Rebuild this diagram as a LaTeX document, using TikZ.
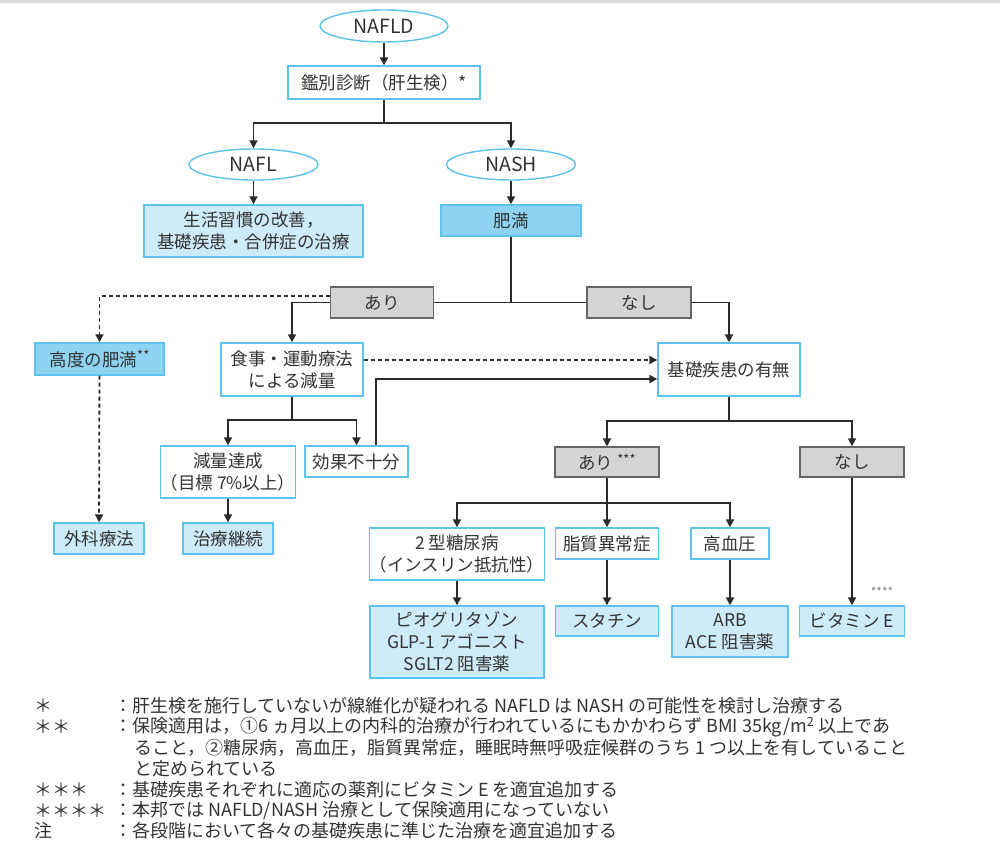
\documentclass[tikz,border=0pt]{standalone}
\usepackage{fontspec}
\setmainfont{Noto Sans CJK JP}
\usetikzlibrary{shapes.geometric,arrows.meta}
\definecolor{bcol}{HTML}{5CC3EE}
\definecolor{lfill}{HTML}{CDEBF9}
\definecolor{dfill}{HTML}{8FD3F2}
\definecolor{gfill}{HTML}{D4D4D4}
\definecolor{gline}{HTML}{666666}
\definecolor{tcol}{HTML}{333333}
\definecolor{lcol}{HTML}{2A2A2A}
\newcommand{\bxfont}{\fontsize{17.5}{22}\selectfont}
\newcommand{\ntfont}{\fontsize{18}{21}\selectfont}
\newcommand{\supast}[1]{\raisebox{0.3em}{\fontsize{13}{13}\selectfont #1}}
\tikzset{
  bx/.style={draw=bcol, line width=1.4pt, fill=white, text=tcol, font=\bxfont, inner sep=0pt, align=center},
  lb/.style={bx, fill=lfill},
  db/.style={bx, fill=dfill},
  gy/.style={draw=gline, line width=1.4pt, fill=gfill, text=tcol, font=\bxfont, inner sep=0pt, align=center},
  el/.style={ellipse, draw=bcol, line width=1.4pt, fill=white, text=tcol, font=\fontsize{19.5}{22}\selectfont, inner sep=0pt},
  ln/.style={draw=lcol, line width=1.8pt},
  arr/.style={ln, -{Triangle[length=8pt,width=8pt]}},
  darr/.style={arr, dash pattern=on 4pt off 3pt},
  note/.style={anchor=west, text=tcol, font=\ntfont, inner sep=0pt}
}
\begin{document}
\begin{tikzpicture}[x=1pt,y=-1pt]
\useasboundingbox (0,0) rectangle (1000,853);
\fill[fill=gray!30] (0,0.5) rectangle (1000,3.5);
% nodes
\node[el, minimum width=128pt, minimum height=32pt] (nafld) at (384,26) {NAFLD};
\node[bx, minimum width=192pt, minimum height=33pt] (kan) at (384,82.5) {鑑別診断（肝生検）*};
\node[el, minimum width=129pt, minimum height=31pt] (nafl) at (253.5,164.5) {NAFL};
\node[el, minimum width=129pt, minimum height=31pt] (nash) at (511,164.5) {NASH};
\node[lb, minimum width=219pt, minimum height=52pt] (seik) at (253.5,231) {生活習慣の改善，\\基礎疾患・合併症の治療};
\node[db, minimum width=140pt, minimum height=31pt] (him) at (511,220.5) {肥満};
\node[gy, minimum width=103pt, minimum height=31pt] (ari1) at (382,302.5) {あり};
\node[gy, minimum width=104pt, minimum height=31pt] (nas1) at (639,302.5) {なし};
\node[db, minimum width=129pt, minimum height=32pt] (kodo) at (99.5,359) {高度の肥満\supast{**}};
\node[bx, minimum width=142pt, minimum height=53pt] (shok) at (292,369.5) {食事・運動療法\\による減量};
\node[bx, minimum width=142pt, minimum height=53pt] (kiso) at (729,369.5) {基礎疾患の有無};
\node[bx, minimum width=135pt, minimum height=52pt] (gen) at (228,472) {減量達成\\（目標 7\%以上）};
\node[bx, minimum width=103pt, minimum height=31pt] (kok) at (356.5,461.5) {効果不十分};
\node[lb, minimum width=90pt, minimum height=31pt] (geka) at (99,538.5) {外科療法};
\node[lb, minimum width=90pt, minimum height=31pt] (keiz) at (228,538.5) {治療継続};
\node[gy, minimum width=104pt, minimum height=30pt] (ari2) at (607,462) {あり \supast{***}};
\node[gy, minimum width=104pt, minimum height=30pt] (nas2) at (852,462) {なし};
\node[bx, minimum width=174pt, minimum height=52pt] (dm) at (457,554) {2 型糖尿病\\（インスリン抵抗性）};
\node[bx, minimum width=103pt, minimum height=31pt] (lip) at (607,543.5) {脂質異常症};
\node[bx, minimum width=78pt, minimum height=31pt] (htn) at (730,543.5) {高血圧};
\node[lb, minimum width=174pt, minimum height=72pt] (pio) at (457,642) {ピオグリタゾン\\GLP-1 アゴニスト\\SGLT2 阻害薬};
\node[lb, minimum width=103pt, minimum height=30pt] (stat) at (607,621) {スタチン};
\node[lb, minimum width=116pt, minimum height=51pt] (arb) at (730,631.5) {ARB\\ACE 阻害薬};
\node[lb, minimum width=105pt, minimum height=30pt] (vite) at (852,621) {ビタミン E};
\node[text=gray, font=\fontsize{12}{12}\selectfont, inner sep=0pt] (ast4) at (882,592) {****};
% coordinates
\coordinate (j1) at (384,123);
\coordinate (j2) at (511,302.5);
\coordinate (j3) at (292,420);
\coordinate (j4) at (729,421);
\coordinate (j5) at (607,503);
% connectors
\draw[arr] (nafld) -- (kan);
\draw[ln] (kan.south) -- (j1);
\draw[arr] (j1) -| (nafl.north);
\draw[arr] (j1) -| (nash.north);
\draw[arr] (nafl) -- (seik);
\draw[arr] (nash) -- (him);
\draw[ln] (him.south) -- (j2);
\draw[ln] (ari1.east) -- (nas1.west);
\draw[arr] (nas1.east) -| (kiso.north);
\draw[darr] ([yshift=6.5pt]ari1.west) -| (kodo.north);
\draw[arr] (ari1.west) -| (shok.north);
\draw[darr] ([yshift=9.5pt]shok.east) -- ([yshift=9.5pt]kiso.west);
\draw[arr] ([xshift=19.5pt]kok.north) |- ([yshift=-9.5pt]kiso.west);
\draw[ln] (shok.south) -- (j3);
\draw[arr] (j3) -| (gen.north);
\draw[arr] (j3) -| (kok.north);
\draw[darr] (kodo) -- (geka);
\draw[arr] (gen) -- (keiz);
\draw[ln] (kiso.south) -- (j4);
\draw[arr] (j4) -| (ari2.north);
\draw[arr] (j4) -| (nas2.north);
\draw[ln] (ari2.south) -- (j5);
\draw[arr] (j5) -| (dm.north);
\draw[arr] (j5) -- (lip.north);
\draw[arr] (j5) -| (htn.north);
\draw[arr] (dm) -- (pio);
\draw[arr] (lip) -- (stat);
\draw[arr] (htn) -- (arb);
\draw[arr] (nas2) -- (vite);
% notes
\node[note] (l1) at (34,706) {＊};
\node[note] (l2) at (34,727) {＊\hspace{0pt}＊};
\node[note] (l5) at (34,790) {＊\hspace{0pt}＊\hspace{0pt}＊};
\node[note] (l6) at (34,811) {＊\hspace{0pt}＊\hspace{0pt}＊\hspace{0pt}＊};
\node[note] (l7) at (34,831) {注};
\node[note] (n1) at (114,706) {：肝生検を施行していないが線維化が疑われる NAFLD は NASH の可能性を検討し治療する};
\node[note] (n2) at (114,727) {：保険適用は，①6 ヵ月以上の内科的治療が行われているにもかかわらず BMI 35kg/m\textsuperscript{2} 以上であ};
\node[note] (n3) at (134,748) {ること，②糖尿病，高血圧，脂質異常症，睡眠時無呼吸症候群のうち 1 つ以上を有していること};
\node[note] (n4) at (134,769) {と定められている};
\node[note] (n5) at (114,790) {：基礎疾患それぞれに適応の薬剤にビタミン E を適宜追加する};
\node[note] (n6) at (114,811) {：本邦では NAFLD/NASH 治療として保険適用になっていない};
\node[note] (n7) at (114,831) {：各段階において各々の基礎疾患に準じた治療を適宜追加する};
\end{tikzpicture}
\end{document}
